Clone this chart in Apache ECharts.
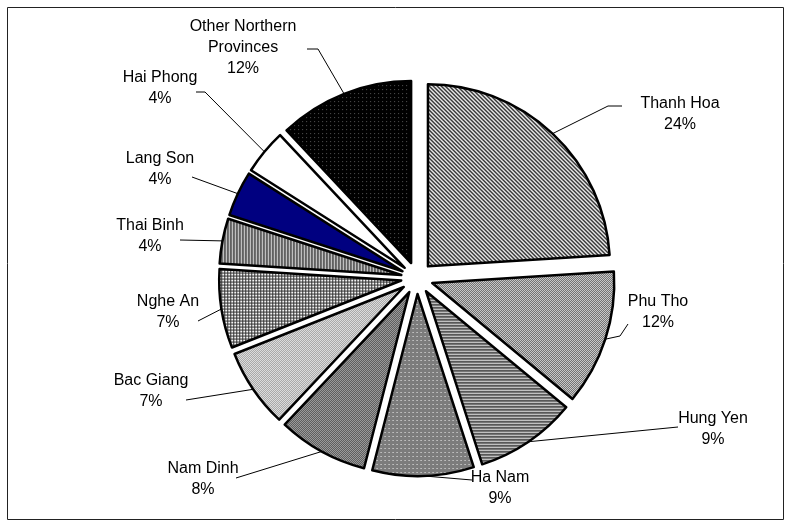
<!DOCTYPE html>
<html>
<head>
<meta charset="utf-8">
<script src="https://cdn.jsdelivr.net/npm/echarts@6/dist/echarts.min.js"></script>
<style>html,body{margin:0;padding:0;background:#fff;}#c{width:792px;height:527px;}</style>
</head>
<body>
<div id="c"></div>
<script>
// ---- data ----
var categories = ['Thanh Hoa','Phu Tho','Hung Yen','Ha Nam','Nam Dinh','Bac Giang','Nghe An','Thai Binh','Lang Son','Hai Phong','Other Northern Provinces'];
var shares = [24, 12, 9, 9, 8, 7, 7, 4, 4, 4, 12];

// ---- styles (patterns) ----
function tile(w, h, fn) {
  var c = document.createElement('canvas');
  c.width = w; c.height = h;
  var ctx = c.getContext('2d');
  for (var y = 0; y < h; y++) for (var x = 0; x < w; x++) {
    ctx.fillStyle = fn(x, y);
    ctx.fillRect(x, y, 1, 1);
  }
  return {image: c, repeat: 'repeat'};
}
var patterns = [
  tile(4, 4, function(x, y){ return ((x - y + 8) % 4 < 2) ? '#3a3a3a' : '#e6e6e6'; }),
  tile(2, 2, function(x, y){ return ((x + y) % 2) ? '#4a4a4a' : '#f2f2f2'; }),
  tile(1, 3, function(x, y){ return ['#333','#8a8a8a','#d0d0d0'][y]; }),
  tile(4, 4, function(x, y){ return (x % 4 == 0 && y % 4 == 0) ? '#f0f0f0' : '#7c7c7c'; }),
  tile(2, 2, function(x, y){ return ((x + y) % 2) ? '#222' : '#d8d8d8'; }),
  tile(2, 2, function(x, y){ return ((x + y) % 2) ? '#9a9a9a' : '#ececec'; }),
  tile(3, 3, function(x, y){ return (x == 0 || y == 0) ? '#303030' : '#f4f4f4'; }),
  tile(3, 1, function(x, y){ return ['#333','#8a8a8a','#d4d4d4'][x]; }),
  '#000080',
  '#ffffff',
  tile(4, 4, function(x, y){ return (x % 4 == 0 && y % 4 == 0) ? '#5a5a5a' : '#000'; })
];
// label layout: centre of each label block, leader elbow and end
var labelLayoutSpec = [
  {x: 680, y: 114, elbow: [608, 106], end: [622, 106]},
  {x: 658, y: 312, elbow: [620, 336], end: [628, 324]},
  {x: 713, y: 429, elbow: [678, 427], end: [678, 427]},
  {x: 500, y: 488, elbow: [472, 480], end: [472, 480]},
  {x: 203, y: 479, elbow: [236, 478], end: [236, 478]},
  {x: 151, y: 391, elbow: [186, 400], end: [186, 400]},
  {x: 168, y: 312, elbow: [198, 321], end: [198, 321]},
  {x: 150, y: 236, elbow: [180, 240], end: [180, 240]},
  {x: 160, y: 169, elbow: [192, 177], end: [192, 177]},
  {x: 160, y: 88,  elbow: [205, 92],  end: [196, 92]},
  {x: 243, y: 48,  elbow: [318, 49],  end: [307, 49]}
];
var CENTER = [417, 278], R = 182, EXPLODE = 16;

var chart = echarts.init(document.getElementById('c'), null, {renderer: 'canvas'});
var sliceData = categories.map(function(n, i){
  return {
    name: n, value: shares[i], selected: true,
    itemStyle: {color: patterns[i]},
    select: {itemStyle: {color: patterns[i], borderColor: '#000', borderWidth: 2.5}}
  };
});
var labelData = categories.map(function(n, i){ return {name: n, value: shares[i]}; });

chart.setOption({
  animation: false,
  backgroundColor: '#fff',
  graphic: [{type: 'rect', shape: {x: 7.5, y: 7.5, width: 776, height: 512}, style: {fill: 'none', stroke: '#222', lineWidth: 1}, silent: true}],
  series: [{
    type: 'pie',
    center: CENTER,
    radius: R,
    startAngle: 90,
    clockwise: true,
    selectedMode: 'multiple',
    selectedOffset: EXPLODE,
    itemStyle: {borderColor: '#000', borderWidth: 2.5},
    emphasis: {disabled: true},
    label: {show: false},
    labelLine: {show: false},
    data: sliceData
  }, {
    // carrier of the labels and leader lines (radius reaches the exploded rim)
    type: 'pie',
    center: CENTER,
    radius: R + EXPLODE,
    startAngle: 90,
    clockwise: true,
    silent: true,
    z: 3,
    avoidLabelOverlap: false,
    itemStyle: {color: 'rgba(0,0,0,0)', borderWidth: 0},
    emphasis: {disabled: true},
    label: {
      show: true, position: 'outside',
      formatter: function(p){ return p.name.replace('Other Northern ', 'Other Northern\n') + '\n' + p.value + '%'; },
      fontFamily: 'Liberation Sans, Arial, sans-serif', fontSize: 16, color: '#000',
      lineHeight: 21, align: 'center'
    },
    labelLine: {show: true, lineStyle: {color: '#000', width: 1}},
    labelLayout: function(params){
      var s = labelLayoutSpec[params.dataIndex];
      var p0 = params.labelLinePoints[0];
      return {
        x: s.x, y: s.y, align: 'center', verticalAlign: 'middle',
        labelLinePoints: [p0, s.elbow, s.end]
      };
    },
    data: labelData
  }]
});
</script>
</body>
</html>
